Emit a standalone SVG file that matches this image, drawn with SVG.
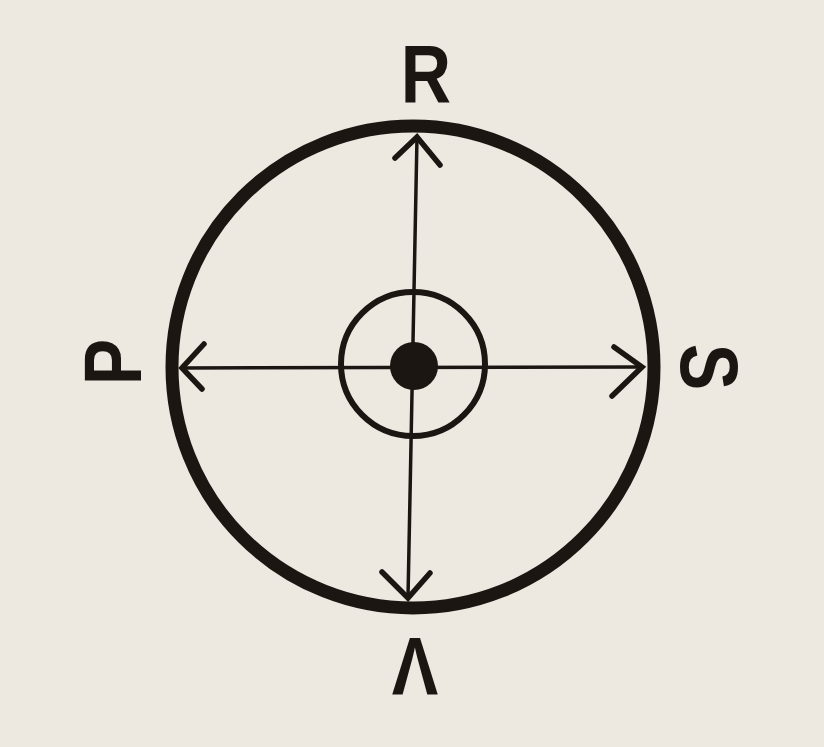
<svg xmlns="http://www.w3.org/2000/svg" width="824" height="747" viewBox="0 0 824 747">
<style>
.ink{stroke:#1c1612;fill:none;stroke-linecap:round}
.lbl{font-family:"Liberation Sans",Arial,sans-serif;font-weight:bold;font-size:82px;fill:#1c1612;text-anchor:middle}
</style>
<rect width="824" height="747" fill="#ede9e1"/>
<g id="outer-circle"><circle class="ink" cx="413" cy="367" r="241" stroke-width="13"/></g>
<g id="inner-circle"><circle class="ink" cx="413" cy="364" r="72" stroke-width="6"/></g>
<g id="center-dot"><circle cx="414" cy="366" r="24" fill="#1c1612"/></g>
<g id="connectors">
<line class="ink" x1="417" y1="137" x2="408" y2="598" stroke-width="3.5"/>
<line class="ink" x1="182" y1="368" x2="642" y2="367" stroke-width="3.5"/>
<polyline class="ink" points="395,158 417,137 440,165" stroke-width="5.5"/>
<polyline class="ink" points="204,344 182,368 202,389" stroke-width="5.5"/>
<polyline class="ink" points="614,347 642,367 612,396" stroke-width="5.5"/>
<polyline class="ink" points="382,572 408,598 430,573" stroke-width="5.5"/>
</g>
<g id="label-R"><text class="lbl" transform="translate(426,102) scale(0.85,1)" x="0" y="0">R</text></g>
<g id="label-P"><text class="lbl" transform="translate(112,362) rotate(-90) scale(0.85,1)" x="0" y="29">P</text></g>
<g id="label-S"><text class="lbl" transform="translate(710,367) rotate(90) scale(0.85,1)" x="0" y="29">S</text></g>
<g id="label-V"><text class="lbl" transform="translate(415,667) rotate(180) scale(0.85,1)" x="0" y="29">V</text></g>
</svg>
